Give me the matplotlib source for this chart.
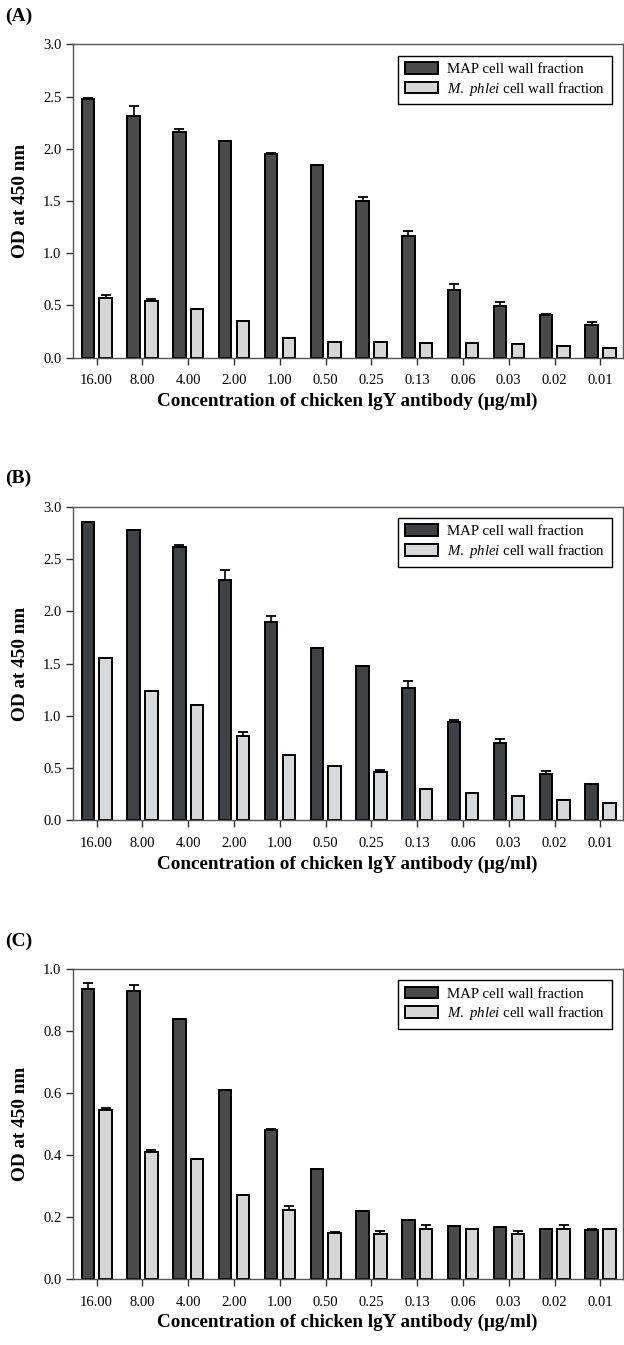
import numpy as np
import matplotlib
matplotlib.use('Agg')
import matplotlib.pyplot as plt

plt.rcParams['font.family'] = 'Liberation Serif'
plt.rcParams['mathtext.fontset'] = 'custom'
plt.rcParams['mathtext.rm'] = 'Liberation Serif'
plt.rcParams['mathtext.it'] = 'Liberation Serif:italic'
plt.rcParams['mathtext.bf'] = 'Liberation Serif:bold'

# antibody concentrations (ug/ml)
conc = ['16.00', '8.00', '4.00', '2.00', '1.00', '0.50',
        '0.25', '0.13', '0.06', '0.03', '0.02', '0.01']

# panel A
map_a = [2.48, 2.31, 2.16, 2.07, 1.95, 1.84, 1.50, 1.16, 0.65, 0.49, 0.41, 0.31]
map_a_err = [0.01, 0.10, 0.03, 0.0, 0.01, 0.0, 0.04, 0.05, 0.05, 0.04, 0.01, 0.03]
phl_a = [0.57, 0.54, 0.46, 0.35, 0.19, 0.15, 0.15, 0.14, 0.14, 0.13, 0.11, 0.09]
phl_a_err = [0.03, 0.02, 0.0, 0.0, 0.0, 0.0, 0.0, 0.0, 0.0, 0.0, 0.0, 0.0]

# panel B
map_b = [2.85, 2.78, 2.61, 2.30, 1.90, 1.65, 1.48, 1.27, 0.94, 0.74, 0.44, 0.35]
map_b_err = [0.0, 0.0, 0.02, 0.09, 0.05, 0.0, 0.0, 0.06, 0.02, 0.04, 0.03, 0.0]
phl_b = [1.55, 1.24, 1.10, 0.81, 0.63, 0.52, 0.46, 0.30, 0.26, 0.23, 0.20, 0.17]
phl_b_err = [0.0, 0.0, 0.0, 0.04, 0.0, 0.0, 0.02, 0.0, 0.0, 0.0, 0.0, 0.0]

# panel C
map_c = [0.935, 0.928, 0.84, 0.61, 0.48, 0.355, 0.22, 0.19, 0.17, 0.167, 0.16, 0.157]
map_c_err = [0.02, 0.02, 0.0, 0.0, 0.005, 0.0, 0.0, 0.0, 0.0, 0.0, 0.0, 0.004]
phl_c = [0.545, 0.41, 0.386, 0.272, 0.222, 0.147, 0.145, 0.16, 0.16, 0.145, 0.16, 0.16]
phl_c_err = [0.005, 0.006, 0.0, 0.0, 0.013, 0.006, 0.01, 0.015, 0.0, 0.01, 0.015, 0.0]

panels = [
    ('(A)', map_a, map_a_err, phl_a, phl_a_err, 3.0, 0.5, '%.1f',
     '#4a4a4a', '#d6d6d6', [0.1165, 0.7342, 0.8815, 0.2328], 0.988),
    ('(B)', map_b, map_b_err, phl_b, phl_b_err, 3.0, 0.5, '%.1f',
     '#3e4246', '#d6d9db', [0.1165, 0.3900, 0.8815, 0.2333], 0.6447),
    ('(C)', map_c, map_c_err, phl_c, phl_c_err, 1.0, 0.2, '%.1f',
     '#4a4a4a', '#d6d6d6', [0.1165, 0.0491, 0.8815, 0.2305], 0.3000),
]

fig = plt.figure(figsize=(6.24, 13.45), dpi=100)
x = np.arange(len(conc))
w = 0.27

for lab, m, me, p, pe, ymax, step, fmt, cd, cl, pos, ty in panels:
    ax = fig.add_axes(pos)
    ax.bar(x - 0.19, m, w, color=cd, edgecolor='black', linewidth=1.4,
           yerr=[np.zeros(len(m)), me], capsize=3.5,
           error_kw=dict(ecolor='black', elinewidth=1.2, capthick=1.3),
           label='MAP cell wall fraction')
    ax.bar(x + 0.20, p, w, color=cl, edgecolor='black', linewidth=1.4,
           yerr=[np.zeros(len(p)), pe], capsize=3.5,
           error_kw=dict(ecolor='black', elinewidth=1.2, capthick=1.3),
           label=r'$\it{M.}$ $\it{phlei}$ cell wall fraction')
    ax.set_xlim(-0.52, 11.49)
    ax.set_ylim(0, ymax)
    ax.set_yticks(np.arange(0, ymax + step / 2, step))
    ax.yaxis.set_major_formatter(matplotlib.ticker.FormatStrFormatter(fmt))
    ax.set_xticks(x)
    ax.set_xticklabels(conc)
    ax.tick_params(axis='both', labelsize=10.5, length=5, width=1, color='#333333')
    ax.tick_params(axis='x', pad=7)
    ax.tick_params(axis='y', pad=3)
    for s in ax.spines.values():
        s.set_color('#555555')
        s.set_linewidth(1)
    ax.set_ylabel('OD at 450 nm', fontsize=13.8, fontweight='bold', labelpad=10)
    ax.set_xlabel(u'Concentration of chicken lgY antibody (\u03bcg/ml)',
                  fontsize=13.8, fontweight='bold', labelpad=4)
    leg = ax.legend(loc='upper right', fontsize=10.7, frameon=True, fancybox=False,
                    edgecolor='black', framealpha=1, handlelength=2.2,
                    handleheight=0.8, borderaxespad=0.75, borderpad=0.45,
                    labelspacing=0.25, handletextpad=0.6)
    leg.get_frame().set_linewidth(1)
    fig.text(0.008, ty, lab, fontsize=14, fontweight='bold', va='center', ha='left')

fig.savefig('out.png', dpi=100)
